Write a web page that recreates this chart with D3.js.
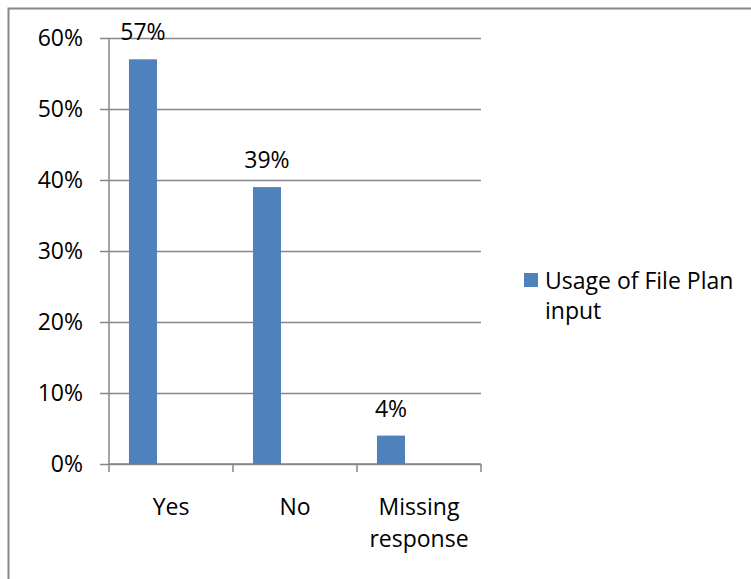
<!DOCTYPE html>
<html><head><meta charset="utf-8">
<script src="https://cdn.jsdelivr.net/npm/d3@7"></script>
<style>body{margin:0;background:#fff}svg{display:block}text{font-family:"Open Sans",sans-serif;fill:#000}</style>
</head><body><svg id="c" width="751" height="579"></svg>
<script>
const categories = [["Yes"], ["No"], ["Missing", "response"]];
const categoryKeys = ["Yes", "No", "Missing response"];
const seriesName = ["Usage of File Plan", "input"];
const values = [0.57, 0.39, 0.04];
const yTicks = [0, 0.1, 0.2, 0.3, 0.4, 0.5, 0.6];

(function() {
const svg = d3.select("#c");
const fs = 23, grid = "#868686";
svg.append("rect").attr("x", 8.5).attr("y", 8.5).attr("width", 800).attr("height", 700)
  .attr("fill", "none").attr("stroke", "#888").attr("stroke-width", 2);

const pLeft = 109, pRight = 481, pTop = 38, pBottom = 464;
const x = d3.scaleBand().domain(categoryKeys).range([pLeft, pRight]);
const sub = d3.scaleBand().domain(["s0", "s1"]).range([0.161 * x.bandwidth(), 0.613 * x.bandwidth()]);
const y = d3.scaleLinear().domain([0, 0.6]).range([pBottom, pTop]);

// gridlines + y axis
const ya = svg.append("g").attr("transform", `translate(${pLeft},0)`)
  .call(d3.axisLeft(y).tickValues(yTicks).tickFormat(d3.format(".0%")).tickSize(9).tickPadding(17));
ya.select(".domain").remove();
ya.selectAll(".tick line").attr("stroke", grid).attr("x2", pRight - pLeft).attr("x1", -9).attr("stroke-width", 1.5);
ya.selectAll(".tick text").style("font-size", fs + "px").attr("fill", "#000");
svg.append("line").attr("x1", pLeft).attr("x2", pLeft).attr("y1", pTop).attr("y2", pBottom)
  .attr("stroke", grid).attr("stroke-width", 1.5);

// x axis
const xa = svg.append("g").attr("transform", `translate(0,${pBottom})`);
xa.append("line").attr("x1", pLeft).attr("x2", pRight).attr("stroke", grid).attr("stroke-width", 1.5);
const edges = categoryKeys.map(k => x(k)).concat([pRight]);
xa.selectAll(".t").data(edges).join("line").attr("x1", d => d).attr("x2", d => d)
  .attr("y1", 0).attr("y2", 8).attr("stroke", grid).attr("stroke-width", 1.5);
xa.selectAll(".lbl").data(categories).join("text")
  .attr("text-anchor", "middle").style("font-size", fs + "px")
  .each(function(d, i) {
    d3.select(this).selectAll("tspan").data(d).join("tspan")
      .attr("x", x(categoryKeys[i]) + x.bandwidth() / 2)
      .attr("y", (t, j) => 51 + j * 32).text(t => t);
  });

// bars
svg.selectAll(".bar").data(values).join("rect")
  .attr("x", (d, i) => x(categoryKeys[i]) + sub("s0"))
  .attr("width", sub.bandwidth())
  .attr("y", d => y(d)).attr("height", d => pBottom - y(d))
  .attr("fill", "#4F81BD");
svg.selectAll(".vl").data(values).join("text")
  .attr("x", (d, i) => x(categoryKeys[i]) + sub("s0") + sub.bandwidth() / 2)
  .attr("y", d => y(d) - 19).attr("text-anchor", "middle").style("font-size", fs + "px")
  .text(d => d3.format(".0%")(d));

// legend
svg.append("rect").attr("x", 524).attr("y", 273).attr("width", 14).attr("height", 14).attr("fill", "#4F81BD");
svg.append("text").style("font-size", fs + "px").selectAll("tspan").data(seriesName).join("tspan")
  .attr("x", 545).attr("y", (d, i) => 289 + i * 30).text(d => d);
})();
</script></body></html>
